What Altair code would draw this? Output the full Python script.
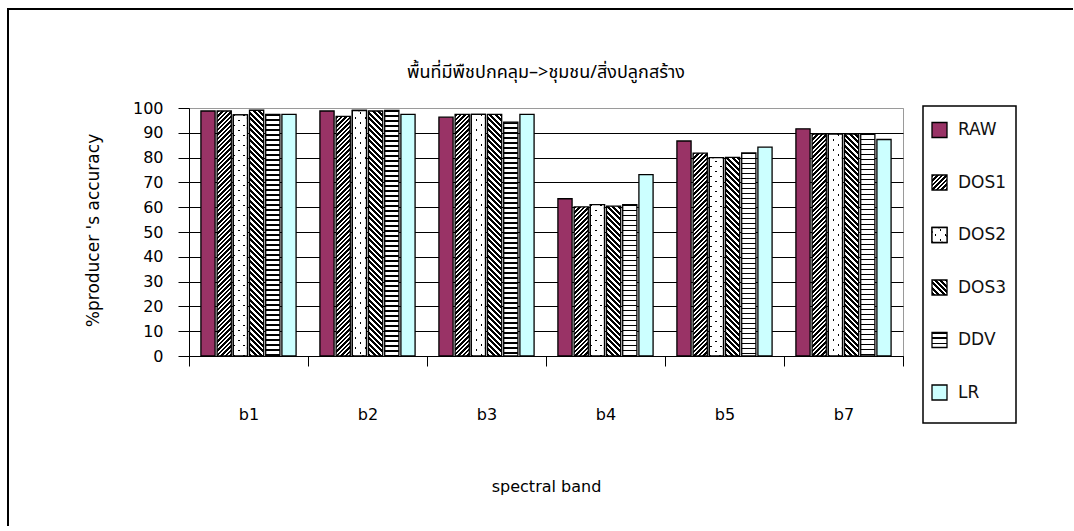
import altair as alt

# ---- data -------------------------------------------------------------
BANDS = ["b1", "b2", "b3", "b4", "b5", "b7"]
SERIES = ["RAW", "DOS1", "DOS2", "DOS3", "DDV", "LR"]

RAW = [98.8, 98.8, 96.3, 63.4, 86.7, 91.6]
DOS1 = [98.8, 96.6, 97.4, 60.1, 81.8, 89.5]
DOS2 = [97.2, 99.0, 97.4, 61.0, 80.0, 89.5]
DOS3 = [99.1, 98.8, 97.4, 60.4, 80.1, 89.5]
DDV = [97.4, 99.0, 94.3, 61.0, 81.9, 89.7]
LR = [97.4, 97.4, 97.4, 73.1, 84.2, 87.3]

VALUES = {"RAW": RAW, "DOS1": DOS1, "DOS2": DOS2, "DOS3": DOS3, "DDV": DDV, "LR": LR}

TITLE = "พื้นที่มีพืชปกคลุม–>ชุมชน/สิ่งปลูกสร้าง"
X_TITLE = "spectral band"
Y_TITLE = "%producer 's accuracy"
Y_TICKS = [0, 10, 20, 30, 40, 50, 60, 70, 80, 90, 100]

# ---- layout -----------------------------------------------------------
PLOT_W, PLOT_H = 714, 248
OFF_INNER, OFF_OUTER = 0.125, 0.7355
SYM = 15
FONT = "DejaVu Sans"
THAI_FONT = "Tahoma, 'Noto Sans Thai', 'Noto Sans', sans-serif"

_step = PLOT_W / len(BANDS)
BAR_W = _step / (len(SERIES) - OFF_INNER + 2 * OFF_OUTER) * (1 - OFF_INNER)

BLACK, WHITE, CLEAR = "#000000", "#ffffff", "rgba(255,255,255,0)"


# ---- hatch fills built from hard-edged linear gradients -----------------
def stripe_stops(length, period, on_len, on_color, off_color):
    stops = []
    pos = 0.0
    while pos < length:
        a = pos / length
        b = min(pos + on_len, length) / length
        c = min(pos + period, length) / length
        stops.append({"offset": round(a, 5), "color": on_color})
        stops.append({"offset": round(b, 5), "color": on_color})
        if b < 1:
            stops.append({"offset": round(b, 5), "color": off_color})
            stops.append({"offset": round(c, 5), "color": off_color})
        pos += period
    return stops


def diag_up(w, h, period, on_len, on_color, off_color):
    # "/" hatching: colour depends on x + y in pixels
    lam = (w + h) / (w * w + h * h)
    return {"gradient": "linear", "x1": 0, "y1": 0, "x2": lam * w, "y2": lam * h,
            "stops": stripe_stops(w + h, period, on_len, on_color, off_color)}


def diag_down(w, h, period, on_len, on_color, off_color):
    # "\" hatching: colour depends on x - y in pixels
    lam = (w + h) / (w * w + h * h)
    return {"gradient": "linear", "x1": 0, "y1": 1, "x2": lam * w, "y2": 1 - lam * h,
            "stops": stripe_stops(w + h, period, on_len, on_color, off_color)}


def horiz_lines(h, period, on_len):
    return {"gradient": "linear", "x1": 0.5, "y1": 0, "x2": 0.5, "y2": 1,
            "stops": stripe_stops(h, period, on_len, BLACK, WHITE)}


def paint(series, w, h):
    if series == "RAW":
        return "#993366"
    if series == "LR":
        return "#ccffff"
    if series == "DOS1":
        return diag_up(w, h, 4.5, 2.6, BLACK, WHITE)
    if series == "DOS3":
        return diag_down(w, h, 5.5, 3.0, BLACK, WHITE)
    if series == "DDV":
        return horiz_lines(h, 5.0, 1.4)
    # DOS2 base: thin "/" lines, later masked into dots
    return diag_up(w, h, 10.0, 2.0, BLACK, WHITE)


def dot_mask(w, h):
    # white cover with thin "\" gaps; only the crossings of both stay black
    return diag_down(w, h, 10.0, 2.0, CLEAR, WHITE)


bar_rows, mask_rows = [], []
for i, band in enumerate(BANDS):
    for s in SERIES:
        v = VALUES[s][i]
        h = v / 100 * PLOT_H
        bar_rows.append({"band": band, "series": s, "value": v, "paint": paint(s, BAR_W, h)})
        if s == "DOS2":
            mask_rows.append({"band": band, "series": s, "value": v, "paint": dot_mask(BAR_W, h)})

legend_rows = [{"series": s, "paint": paint(s, SYM, SYM)} for s in SERIES]
legend_mask_rows = [{"series": "DOS2", "paint": dot_mask(SYM, SYM)}]

# ---- scales / axes ----------------------------------------------------
x_enc = alt.X(
    "band:N", sort=BANDS,
    scale=alt.Scale(domain=BANDS, paddingInner=0, paddingOuter=0),
    axis=alt.Axis(
        title=X_TITLE, labelAngle=0, tickBand="extent", tickSize=10, labelPadding=40,
        labelFontSize=16, labelColor="black", labelFont=FONT,
        titleFontSize=16, titleFontWeight="normal", titleColor="black", titleFont=FONT,
        titleY=130, titleBaseline="middle",
        domainColor="black", tickColor="black", grid=False,
    ),
)
xoff_enc = alt.XOffset(
    "series:N", sort=SERIES,
    scale=alt.Scale(domain=SERIES, paddingInner=OFF_INNER, paddingOuter=OFF_OUTER),
)
y_scale = alt.Scale(domain=[0, 100], nice=False, zero=True)
y_enc = alt.Y(
    "value:Q", scale=y_scale,
    axis=alt.Axis(
        title=Y_TITLE, values=Y_TICKS, tickSize=11, labelPadding=15,
        labelFontSize=16, labelColor="black", labelFont=FONT,
        titleFontSize=17, titleFontWeight="normal", titleColor="black", titleFont=FONT,
        titleX=-96, titleY=122, titleBaseline="middle", titleAlign="center",
        domainColor="black", tickColor="black",
        grid=True, gridWidth=1,
        gridColor={"condition": {"test": "datum.value === 100", "value": "#9a9a9a"},
                   "value": "#000000"},
    ),
)

bars = alt.Chart(alt.Data(values=bar_rows)).mark_bar(
    stroke="black", strokeWidth=1.3
).encode(x=x_enc, xOffset=xoff_enc, y=y_enc, fill=alt.Fill("paint:N", scale=None))

dots = alt.Chart(alt.Data(values=mask_rows)).mark_bar(
    stroke="black", strokeWidth=1.3
).encode(
    x=x_enc, xOffset=xoff_enc,
    y=alt.Y("value:Q", scale=y_scale, axis=None),
    fill=alt.Fill("paint:N", scale=None),
)

# ---- legend -----------------------------------------------------------
leg_y = alt.Y("series:N", sort=SERIES,
              scale=alt.Scale(type="point", domain=SERIES, range=[22, 284.5], padding=0),
              axis=None)

legend_box = alt.Chart(alt.Data(values=[{"k": 0}])).mark_rect(
    fill="white", stroke="black", strokeWidth=1.5
).encode(x=alt.value(734), x2=alt.value(827), y=alt.value(-2), y2=alt.value(315))

legend_sym = alt.Chart(alt.Data(values=legend_rows)).mark_square(
    size=SYM * SYM, stroke="black", strokeWidth=1.3, opacity=1
).encode(x=alt.value(750.5), y=leg_y, fill=alt.Fill("paint:N", scale=None))

legend_dots = alt.Chart(alt.Data(values=legend_mask_rows)).mark_square(
    size=SYM * SYM, stroke="black", strokeWidth=1.3, opacity=1
).encode(x=alt.value(750.5), y=leg_y, fill=alt.Fill("paint:N", scale=None))

legend_txt = alt.Chart(alt.Data(values=legend_rows)).mark_text(
    align="left", baseline="middle", fontSize=17, font=FONT, color="#111111"
).encode(x=alt.value(769), y=leg_y, text="series:N")

# ---- outer chart frame; its right and bottom edges run past the page ----
frame = alt.Chart(alt.Data(values=[{"k": 0}])).mark_rect(
    fill="transparent", stroke="black", strokeWidth=2
).encode(x=alt.value(-181), x2=alt.value(900), y=alt.value(-99), y2=alt.value(440))

chart = alt.layer(
    frame, bars, dots, legend_box, legend_sym, legend_dots, legend_txt
).resolve_scale(
    y="independent"
).properties(
    width=PLOT_W,
    height=PLOT_H,
    autosize=alt.AutoSizeParams(type="none"),
    padding={"left": 189, "top": 108, "right": 170, "bottom": 170},
    title=alt.TitleParams(
        TITLE, font=THAI_FONT, fontSize=18, fontWeight="normal", color="black",
        anchor="middle", frame="group", baseline="middle", offset=-83,
    ),
).configure(
    font=FONT,
).configure_view(
    stroke="#9a9a9a", strokeWidth=1,
)

chart.save("out.html", embed_options={"renderer": "svg", "actions": False})
